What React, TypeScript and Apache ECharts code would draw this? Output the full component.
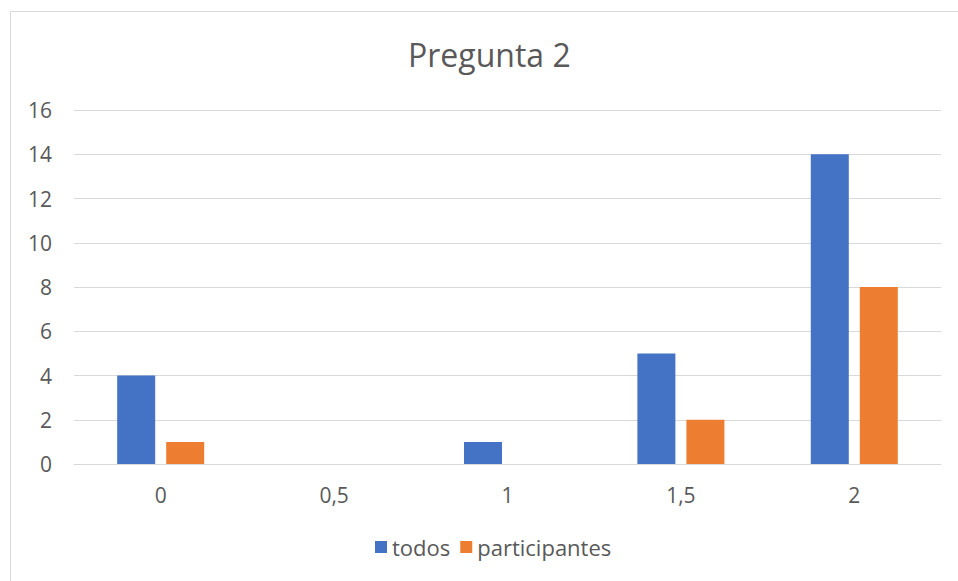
import React, { useEffect, useRef } from "react";
import * as echarts from "echarts";

const categories = ["0", "0,5", "1", "1,5", "2"];
const todos = [4, 0, 1, 5, 14];
const participantes = [1, 0, 0, 2, 8];
const seriesNames = ["todos", "participantes"];
const title = "Pregunta 2";

const FONT = "'Open Sans', sans-serif";
const TEXT = "#595959";

export default function App() {
  const ref = useRef<HTMLDivElement>(null);
  useEffect(() => {
    if (!ref.current) return;
    const chart = echarts.init(ref.current, undefined, { renderer: "svg" });
    chart.setOption({
      animation: false,
      backgroundColor: "#ffffff",
      textStyle: { fontFamily: FONT },
      title: {
        text: title,
        left: 403,
        top: 33,
        textStyle: { fontFamily: FONT, fontSize: 32, fontWeight: "normal", color: TEXT },
      },
      legend: {
        bottom: 18,
        left: 370,
        itemWidth: 12,
        itemHeight: 12,
        itemGap: 10,
        icon: "rect",
        textStyle: { fontFamily: FONT, fontSize: 22, color: TEXT },
        data: seriesNames,
      },
      graphic: [
        {
          type: "rect",
          shape: { x: 10.5, y: 11.5, width: 980, height: 620 },
          style: { fill: "none", stroke: "#d9d9d9", lineWidth: 1 },
          silent: true,
        },
      ],
      grid: { left: 74, right: 17, top: 110, bottom: 117, containLabel: false },
      xAxis: {
        type: "category",
        data: categories,
        axisLine: { show: true, lineStyle: { color: "#d9d9d9", width: 1 } },
        axisTick: { show: false },
        axisLabel: { color: TEXT, fontSize: 21, fontFamily: FONT, margin: 20 },
      },
      yAxis: {
        type: "value",
        min: 0,
        max: 16,
        interval: 2,
        axisLine: { show: false },
        axisTick: { show: false },
        axisLabel: { color: TEXT, fontSize: 21, fontFamily: FONT, margin: 22 },
        splitLine: { lineStyle: { color: "#d9d9d9", width: 1 } },
      },
      series: [
        {
          name: seriesNames[0],
          type: "bar",
          data: todos,
          barWidth: 38,
          barGap: "29%",
          itemStyle: { color: "#4472C4" },
        },
        {
          name: seriesNames[1],
          type: "bar",
          data: participantes,
          barWidth: 38,
          barGap: "29%",
          itemStyle: { color: "#ED7D31" },
        },
      ],
    });
    return () => chart.dispose();
  }, []);
  return (
    <div
      ref={ref}
      style={{ position: "fixed", left: 0, top: 0, width: 958, height: 581 }}
    />
  );
}
